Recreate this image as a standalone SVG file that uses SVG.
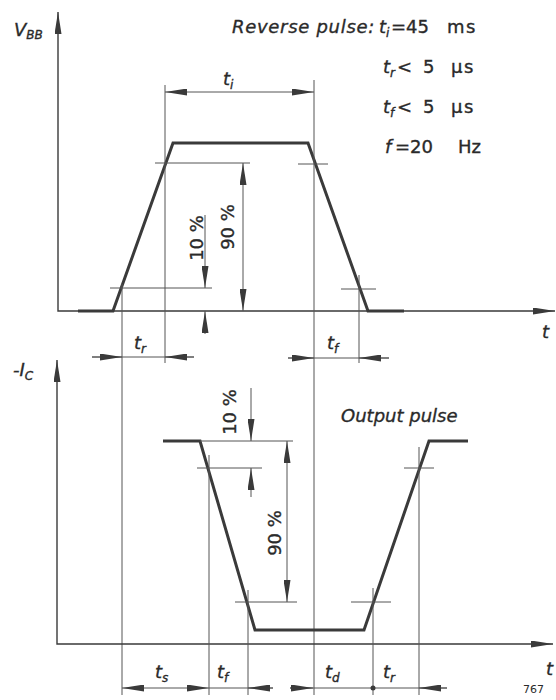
<svg xmlns="http://www.w3.org/2000/svg" width="556" height="700" viewBox="0 0 556 700">
<defs>
<marker id="ah" viewBox="0 0 22 7" refX="22" refY="3.5" markerWidth="22" markerHeight="7" markerUnits="userSpaceOnUse" orient="auto-start-reverse">
<path d="M0,0 L22,3.5 L0,7 z" fill="#3a3a3a"/>
</marker>
<style>
.ax{fill:none;stroke:#3a3a3a;stroke-width:1.4}
.wave{fill:none;stroke:#3a3a3a;stroke-width:3;stroke-linejoin:miter}
.thin{fill:none;stroke:#555;stroke-width:1}
.dim{fill:none;stroke:#555;stroke-width:1}
.t{font-family:"DejaVu Sans",sans-serif;font-size:18px;fill:#2a2a2a;stroke:#2a2a2a;stroke-width:0.35}
.i{font-style:italic}
.sub{font-size:12px}
.pct{font-family:"DejaVu Sans",sans-serif;font-size:18px;fill:#2a2a2a;stroke:#2a2a2a;stroke-width:0.35;text-anchor:middle}
</style>
</defs>
<rect width="556" height="700" fill="#fff"/>

<g id="upper-chart">
<path class="ax" d="M58,12 V311 H555" marker-start="url(#ah)" marker-end="url(#ah)"/>
<path class="wave" d="M78,311 H113 L173,143 H308 L368,311 H404"/>
<g id="upper-ticks">
<line class="thin" x1="155" y1="163" x2="250" y2="163"/>
<line class="thin" x1="110" y1="288" x2="212" y2="288"/>
<line class="thin" x1="298" y1="164" x2="328" y2="164"/>
<line class="thin" x1="341" y1="289" x2="376" y2="289"/>
<line class="thin" x1="165" y1="85" x2="165" y2="363"/>
<line class="thin" x1="314" y1="80" x2="314" y2="695"/>
<line class="thin" x1="359" y1="275" x2="359" y2="363"/>
<line class="thin" x1="122" y1="284" x2="122" y2="695"/>
</g>
<g id="upper-dims">
<line class="dim" x1="165" y1="92" x2="314" y2="92" marker-start="url(#ah)" marker-end="url(#ah)"/>
<line class="dim" x1="205" y1="215" x2="205" y2="288" marker-end="url(#ah)"/>
<line class="dim" x1="205" y1="334" x2="205" y2="311" marker-end="url(#ah)"/>
<line class="dim" x1="243" y1="163" x2="243" y2="311" marker-start="url(#ah)" marker-end="url(#ah)"/>
<line class="dim" x1="92" y1="357" x2="194" y2="357"/>
<line class="dim" x1="92" y1="357" x2="122" y2="357" marker-end="url(#ah)"/>
<line class="dim" x1="194" y1="357" x2="165" y2="357" marker-end="url(#ah)"/>
<line class="dim" x1="288" y1="358" x2="389" y2="358"/>
<line class="dim" x1="288" y1="358" x2="314" y2="358" marker-end="url(#ah)"/>
<line class="dim" x1="389" y1="358" x2="359" y2="358" marker-end="url(#ah)"/>
</g>
<g id="upper-labels">
<text class="t i" x="14" y="36">V<tspan class="sub" dy="3">BB</tspan></text>
<text class="t i" x="223" y="85">t<tspan class="sub" dy="4">i</tspan></text>
<text class="t i" x="134" y="349">t<tspan class="sub" dy="4">r</tspan></text>
<text class="t i" x="327" y="349">t<tspan class="sub" dy="4">f</tspan></text>
<text class="t i" x="542" y="338">t</text>
<text class="pct" transform="translate(203,238) rotate(-90)">10 %</text>
<text class="pct" transform="translate(234,227) rotate(-90)">90 %</text>
</g>
</g>

<g id="parameters">
<text class="t i" x="232" y="33" letter-spacing="0.7">Reverse pulse:</text>
<text class="t i" x="379" y="33">t<tspan class="sub" dy="4">i</tspan></text>
<text class="t" x="391" y="33">=45</text>
<text class="t" x="447" y="33" letter-spacing="1.5">ms</text>
<text class="t i" x="383" y="73">t<tspan class="sub" dy="4">r</tspan></text>
<text class="t" x="397" y="73">&lt;</text>
<text class="t" x="423" y="73">5</text>
<text class="t" x="451" y="73" letter-spacing="1.5">µs</text>
<text class="t i" x="383" y="113">t<tspan class="sub" dy="4">f</tspan></text>
<text class="t" x="397" y="113">&lt;</text>
<text class="t" x="423" y="113">5</text>
<text class="t" x="451" y="113" letter-spacing="1.5">µs</text>
<text class="t i" x="385" y="153">f</text>
<text class="t" x="395" y="153">=20</text>
<text class="t" x="458" y="153">Hz</text>
</g>

<g id="lower-chart">
<path class="ax" d="M57,360 V644 H553" marker-start="url(#ah)" marker-end="url(#ah)"/>
<path class="wave" d="M163,441 H200 L255,630 H364 L429,441 H468"/>
<g id="lower-ticks">
<line class="thin" x1="200" y1="441" x2="293" y2="441"/>
<line class="thin" x1="197" y1="468" x2="262" y2="468"/>
<line class="thin" x1="235" y1="602" x2="297" y2="602"/>
<line class="thin" x1="351" y1="602" x2="391" y2="602"/>
<line class="thin" x1="404" y1="468" x2="434" y2="468"/>
<line class="thin" x1="209" y1="455" x2="209" y2="695"/>
<line class="thin" x1="248" y1="590" x2="248" y2="695"/>
<line class="thin" x1="373" y1="588" x2="373" y2="695"/>
<line class="thin" x1="419" y1="447" x2="419" y2="695"/>
</g>
<g id="lower-dims">
<line class="dim" x1="251" y1="388" x2="251" y2="441" marker-end="url(#ah)"/>
<line class="dim" x1="251" y1="497" x2="251" y2="468" marker-end="url(#ah)"/>
<line class="dim" x1="287" y1="441" x2="287" y2="602" marker-start="url(#ah)" marker-end="url(#ah)"/>
<line class="dim" x1="122" y1="688" x2="209" y2="688" marker-start="url(#ah)" marker-end="url(#ah)"/>
<line class="dim" x1="209" y1="688" x2="273" y2="688"/>
<line class="dim" x1="273" y1="688" x2="248" y2="688" marker-end="url(#ah)"/>
<line class="dim" x1="290" y1="688" x2="447" y2="688"/>
<line class="dim" x1="290" y1="688" x2="313" y2="688" marker-end="url(#ah)"/>
<line class="dim" x1="447" y1="688" x2="419" y2="688" marker-end="url(#ah)"/>
<circle cx="373" cy="688" r="2.5" fill="#3a3a3a"/>
</g>
<g id="lower-labels">
<text class="t i" x="13" y="376">-I<tspan class="sub" dy="4">C</tspan></text>
<text class="t i" x="341" y="422">Output pulse</text>
<text class="pct" transform="translate(236,412) rotate(-90)">10 %</text>
<text class="pct" transform="translate(281,533) rotate(-90)">90 %</text>
<text class="t i" x="155" y="678">t<tspan class="sub" dy="4">s</tspan></text>
<text class="t i" x="217" y="678">t<tspan class="sub" dy="4">f</tspan></text>
<text class="t i" x="325" y="678">t<tspan class="sub" dy="4">d</tspan></text>
<text class="t i" x="383" y="678">t<tspan class="sub" dy="4">r</tspan></text>
<text class="t i" x="546" y="675">t</text>
<text x="523" y="693" font-family="DejaVu Sans, sans-serif" font-size="11" fill="#2a2a2a">767</text>
</g>
</g>
</svg>
